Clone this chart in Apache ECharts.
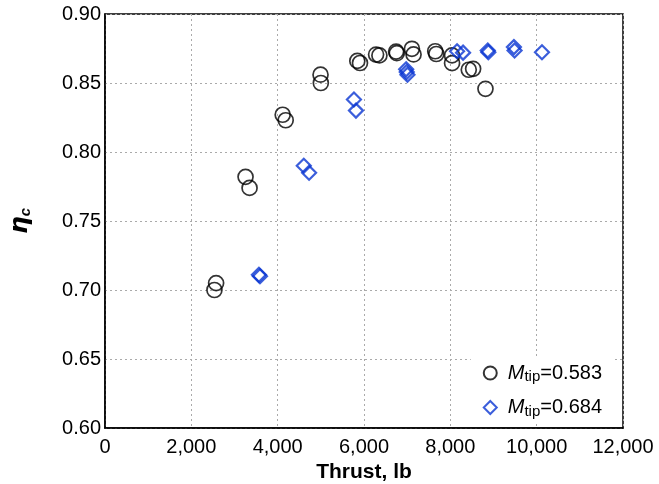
<!DOCTYPE html>
<html>
<head>
<meta charset="utf-8">
<script src="https://cdn.jsdelivr.net/npm/echarts@6/dist/echarts.min.js"></script>
<style>
  html, body { margin: 0; padding: 0; background: #fff; }
  #chart { width: 659px; height: 484px; }
</style>
</head>
<body>
<div id="chart"></div>
<script>
// Mtip = 0.583 (circles)
let thrustLow = [2574, 2535, 3256, 3349, 4116, 4186, 4993, 5000, 5845, 5907, 6280, 6357,
  6744, 6760, 7110, 7148, 7650, 7675, 8040, 8040, 8427, 8528, 8814]
let etaLow = [0.705, 0.700, 0.782, 0.774, 0.827, 0.823, 0.856, 0.850, 0.866, 0.8645, 0.8706, 0.870,
  0.8728, 0.8716, 0.8748, 0.8707, 0.873, 0.871, 0.870, 0.8644, 0.8596, 0.8603, 0.8458]

// Mtip = 0.684 (diamonds)
let thrustHigh = [3566, 3590, 4605, 4728, 5767, 5814, 6977, 6990, 7007, 8156, 8295, 8867, 8880,
  9473, 9488, 10123]
let etaHigh = [0.711, 0.710, 0.790, 0.785, 0.838, 0.830, 0.860, 0.858, 0.856, 0.873, 0.872, 0.8736, 0.8723,
  0.876, 0.8736, 0.8723]

let seriesNames = ['Mtip=0.583', 'Mtip=0.684']
let xTicks = [0, 2000, 4000, 6000, 8000, 10000, 12000]

function pairs(xs, ys) {
  return xs.map((x, i) => [x, ys[i]])
}

let font = 'Liberation Sans, Arial, Helvetica, sans-serif'
let blue = '#0a36d2'

let chart = echarts.init(document.getElementById('chart'))
chart.setOption({
  animation: false,
  textStyle: { fontFamily: font },
  grid: {
    left: 105, right: 36, top: 14, bottom: 56,
    outerBoundsMode: 'none',
    containLabel: false,
    show: true, borderColor: '#000', borderWidth: 1.5
  },
  xAxis: {
    type: 'value',
    min: xTicks[0], max: xTicks[xTicks.length - 1], interval: 2000,
    name: 'Thrust, lb',
    nameLocation: 'middle', nameGap: 30,
    nameTextStyle: { fontSize: 21, fontWeight: 'bold', color: '#000', fontFamily: font },
    axisLine: { lineStyle: { color: '#000', width: 1.5 } },
    axisTick: { show: false },
    axisLabel: {
      color: '#000', fontSize: 20, margin: 9,
      formatter: v => v.toLocaleString('en-US')
    },
    splitLine: { lineStyle: { type: [2, 3], color: '#aaa', width: 1 } }
  },
  yAxis: {
    type: 'value',
    min: 0.6, max: 0.9, interval: 0.05,
    name: '{eta|η}{sub|c}',
    nameLocation: 'middle', nameGap: 72, nameRotate: 90,
    nameTextStyle: {
      rich: {
        eta: { fontSize: 25, fontWeight: 'bold', fontStyle: 'italic', color: '#000', fontFamily: 'DejaVu Sans' },
        sub: { fontSize: 15, fontWeight: 'bold', fontStyle: 'italic', color: '#000', fontFamily: font,
          verticalAlign: 'bottom', padding: [6, 0, 0, 0] }
      }
    },
    axisLine: { lineStyle: { color: '#000', width: 1.5 } },
    axisTick: { show: false },
    axisLabel: {
      color: '#000', fontSize: 20, margin: 4,
      formatter: v => v.toFixed(2)
    },
    splitLine: { lineStyle: { type: [2, 3], color: '#aaa', width: 1 } }
  },
  legend: {
    orient: 'vertical',
    right: 47, bottom: 61,
    backgroundColor: '#fff',
    padding: [4, 10, 4, 12],
    itemGap: 13,
    itemWidth: 13, itemHeight: 13,
    data: seriesNames,
    formatter: name => '{i|M}{s|tip}{n|' + name.slice(4) + '}',
    textStyle: {
      rich: {
        i: { fontSize: 20, fontStyle: 'italic', color: '#000', fontFamily: font, padding: [0, 0, 0, 6] },
        s: { fontSize: 15, color: '#000', fontFamily: font, verticalAlign: 'bottom', padding: [8, 0, 0, 0] },
        n: { fontSize: 20, color: '#000', fontFamily: font }
      }
    }
  },
  series: [
    {
      name: seriesNames[0],
      type: 'scatter',
      symbol: 'circle',
      symbolSize: 15,
      itemStyle: { color: 'rgba(255,255,255,0)', borderColor: '#000', borderWidth: 1.7 },
      data: pairs(thrustLow, etaLow)
    },
    {
      name: seriesNames[1],
      type: 'scatter',
      symbol: 'diamond',
      symbolSize: 14,
      itemStyle: { color: 'rgba(255,255,255,0)', borderColor: blue, borderWidth: 2.2 },
      data: pairs(thrustHigh, etaHigh)
    }
  ]
})
</script>
</body>
</html>
